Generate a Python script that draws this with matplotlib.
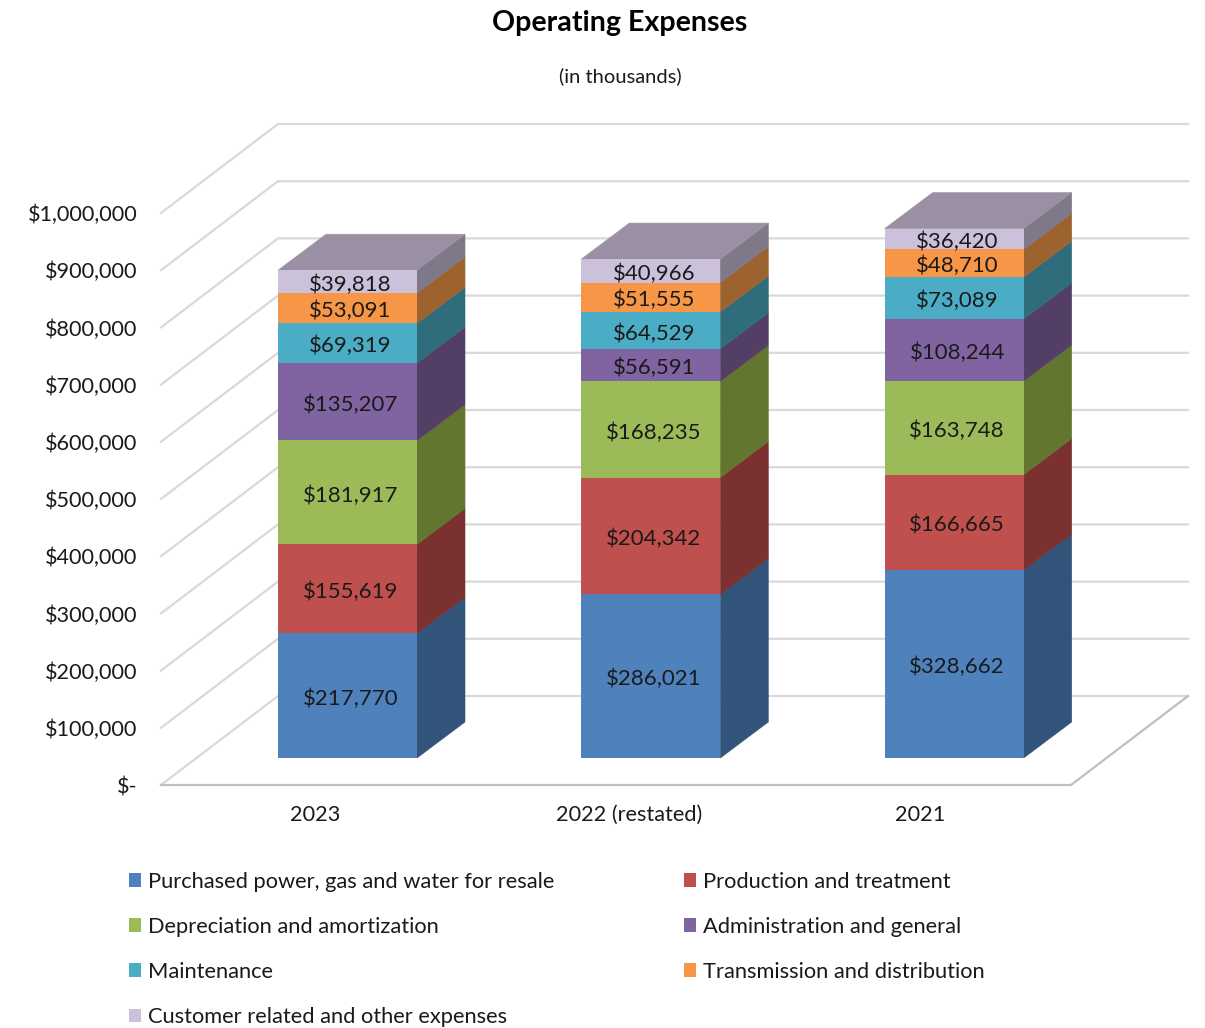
import numpy as np
import matplotlib
matplotlib.use("Agg")
import matplotlib.pyplot as plt
from matplotlib.patches import Polygon, Patch

plt.rcParams['font.family'] = ['Lato', 'DejaVu Sans']

years = ["2023", "2022 (restated)", "2021"]
series_names = ["Purchased power, gas and water for resale", "Production and treatment",
                "Depreciation and amortization", "Administration and general",
                "Maintenance", "Transmission and distribution",
                "Customer related and other expenses"]
purchased = [217770, 286021, 328662]
production = [155619, 204342, 166665]
depreciation = [181917, 168235, 163748]
administration = [135207, 56591, 108244]
maintenance = [69319, 64529, 73089]
transmission = [53091, 51555, 48710]
customer = [39818, 40966, 36420]
series = [purchased, production, depreciation, administration, maintenance, transmission, customer]
y_ticks = np.arange(0, 1000001, 100000)
y_labels = ["$-"] + ["${:,}".format(v) for v in y_ticks[1:]]

front_cols = ["#4F81BD", "#C0504D", "#9BBB59", "#8064A2", "#4BACC6", "#F79646", "#CCC1DA"]
side_cols = ["#32547B", "#7A3130", "#62762F", "#533E66", "#2F6D7C", "#9C632E", "#7F7889"]
top_col = "#9B90A3"
grid_col = "#D9D9D9"
floor_col = "#BFBFBF"
text_col = "#1A1A1A"

W, H = 1205, 1028
fig = plt.figure(figsize=(W / 100, H / 100), dpi=100)
# front plane of the fake 3d box, in pixels: x 161..1071, y 785..213
ax = fig.add_axes([161 / W, 1 - 785 / H, 910 / W, 572 / H])
ax.set_xlim(0, 3)
ax.set_ylim(0, 1000000)
for s in ax.spines.values():
    s.set_visible(False)

# depth of walls and bars, in data units
wall_dx = 117 / 303.33
wall_dy = 89 / 572 * 1000000
bar_dx = 48 / 303.33
bar_dy = 36 / 572 * 1000000
bar_lift = 27 / 572 * 1000000
bar_left = 117 / 303.33
bar_w = 139 / 303.33
label_drop = 3 / 572 * 1000000


def poly(pts, fc, z=2):
    ax.add_patch(Polygon(pts, closed=True, fc=fc, ec=fc, lw=0.4, zorder=z, clip_on=False))


# walls
for v in y_ticks[1:]:
    ax.plot([0, wall_dx, 3 + wall_dx], [v, v + wall_dy, v + wall_dy], color=grid_col, lw=1.6,
            clip_on=False, zorder=1, solid_joinstyle="miter")
# floor
ax.plot([0, wall_dx, 3 + wall_dx], [0, wall_dy, wall_dy], color=grid_col, lw=1.6, clip_on=False, zorder=1,
        solid_joinstyle="miter")
ax.plot([0, 3, 3 + wall_dx], [0, 0, wall_dy], color=floor_col, lw=1.6,
        clip_on=False, zorder=1, solid_joinstyle="miter")

# bars
for i in range(len(years)):
    x0 = i + bar_left
    x1 = x0 + bar_w
    base = bar_lift
    for j, vals in enumerate(series):
        v = vals[i]
        ax.bar(x0, v, bar_w, bottom=base, align="edge", color=front_cols[j], zorder=3.5, clip_on=False)
        poly([(x1, base), (x1 + bar_dx, base + bar_dy), (x1 + bar_dx, base + v + bar_dy), (x1, base + v)],
             side_cols[j], z=3)
        ax.text(x0 + bar_w / 2 + 0.01, base + v / 2 - label_drop, "${:,}".format(v), ha="center", va="center",
                fontsize=16, color=text_col, zorder=4)
        base += v
    poly([(x0, base), (x1, base), (x1 + bar_dx, base + bar_dy), (x0 + bar_dx, base + bar_dy)], top_col, z=3)

ax.set_yticks(y_ticks)
ax.set_yticklabels(y_labels, fontsize=15.6, color=text_col)
ax.set_xticks([0.508, 1.543, 2.502])
ax.set_xticklabels(years, fontsize=15.6, color=text_col)
ax.tick_params(axis="y", length=0, pad=17)
ax.tick_params(axis="x", length=0, pad=14.5)

fig.text(620 / W, 1 - 23.5 / H, "Operating Expenses", ha="center", va="center", fontsize=20.6, fontweight="bold",
         color="black")
fig.text(620 / W, 1 - 76 / H, "(in thousands)", ha="center", va="center", fontsize=14.5, color=text_col)

# legend fills column by column, so pick rows out of the series order
order = [0, 2, 4, 6, 1, 3, 5]
handles = [Patch(fc=front_cols[k], ec="none") for k in order]
fig.legend(handles, [series_names[k] for k in order], ncols=2, loc="upper left",
           bbox_to_anchor=(120 / W, 1 - 863 / H), frameon=False, fontsize=15.75, labelcolor=text_col,
           handlelength=0.55, handleheight=0.6, handletextpad=0.32, labelspacing=1.15, columnspacing=5.93,
           borderpad=0.4, borderaxespad=0)

plt.savefig("out.png", dpi=100)
